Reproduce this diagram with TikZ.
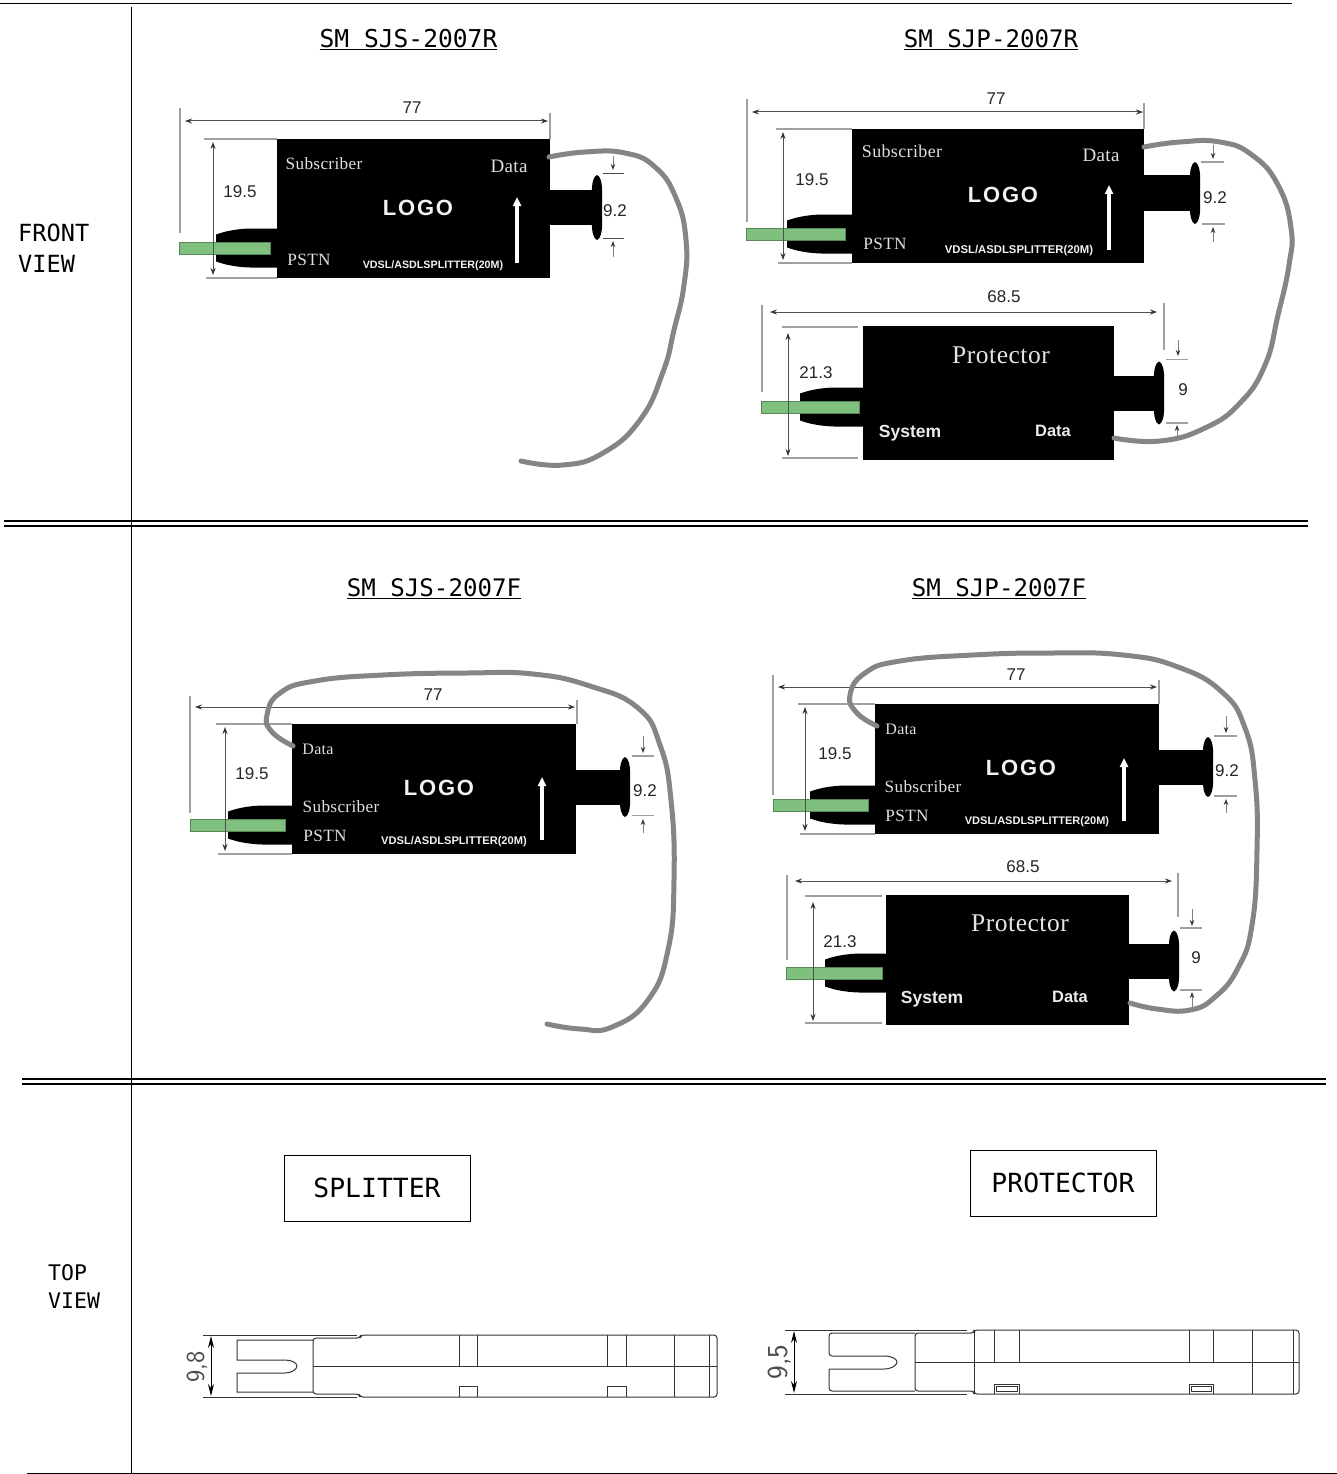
\documentclass[tikz,border=0pt]{standalone}
\usepackage{fontspec}
\setmainfont{Liberation Sans}
\newfontfamily\fSer[LetterSpace=2]{Liberation Serif}
\newfontfamily\fMono{DejaVu Sans Mono}
\newfontfamily\fLogo[LetterSpace=8]{Liberation Sans}
\usetikzlibrary{arrows.meta}
\definecolor{cabgray}{HTML}{858585}
\definecolor{plugreen}{HTML}{7FC07F}
\definecolor{dimgray}{HTML}{505050}
\definecolor{tickgray}{HTML}{A0A0A0}
\tikzset{
  x=1pt,y=-1pt,
  body/.style={fill=black,draw=none,inner sep=0pt,anchor=north west,outer sep=0pt},
  rule/.style={line width=1pt,black},
  dblrule/.style={line width=1.7pt,black},
  cable/.style={draw=cabgray,line width=5pt,line cap=round,line join=round},
  tickline/.style={draw=tickgray,line width=1.2pt},
  dimline/.style={draw=dimgray,line width=1pt,{Stealth[length=7pt,width=5pt,color=black!80]}-{Stealth[length=7pt,width=5pt,color=black!80]}},
  dimhalf/.style={draw=gray,line width=1pt,-{Stealth[length=6pt,width=4.5pt,color=black!80]}},
  whitearrow/.style={draw=white,line width=3.4pt,-{Stealth[length=9pt,width=8pt,inset=0pt]}},
  dimtxt/.style={font=\fontsize{17}{19}\selectfont,text=black!85,inner sep=0pt,yshift=-1pt},
  sertxt/.style={font=\fSer\fontsize{17.2}{20}\selectfont,text=white!88!black,inner sep=0pt},
  pretxt/.style={font=\fSer\fontsize{25.5}{26}\selectfont,text=white!90!black,inner sep=0pt},
  boldtxt/.style={font=\bfseries\fontsize{17.5}{19}\selectfont,text=white!92!black,inner sep=0pt,yshift=-1pt},
  logotxt/.style={font=\fLogo\bfseries\fontsize{22}{24}\selectfont,text=white!95!black,inner sep=0pt},
  modeltxt/.style={font=\bfseries\fontsize{10.7}{12}\selectfont,text=white!95!black,inner sep=0pt,yshift=-2pt},
  titletxt/.style={font=\fMono\fontsize{24.1}{28}\selectfont,inner sep=0pt,yshift=-1.5pt},
  sidetxt/.style={font=\fMono\fontsize{23.6}{31}\selectfont,inner sep=0pt,align=left,anchor=north west},
  tagbox/.style={draw=black,line width=.8pt,minimum height=66pt,minimum width=186pt,inner sep=0pt,font=\fMono\fontsize{26.4}{28}\selectfont},
  drawln/.style={draw=black!80,line width=1pt,line join=round},
  topdim/.style={font=\fontsize{26}{28}\selectfont\sffamily,text=black!70,rotate=90,inner sep=0pt}
}
% #1 body left, #2 centre y, #3 nose x, #4 green left, #5 green right
\newcommand{\plugshape}[5]{%
  \fill[black] (#1,#2-19.5) -- (#3+34,#2-19.5) .. controls (#3+20,#2-19) and (#3+10,#2-17) .. (#3,#2-13.5)
    -- (#3,#2+13.5) .. controls (#3+10,#2+17) and (#3+20,#2+19) .. (#3+34,#2+19.5) -- (#1,#2+19.5) -- cycle;
  \fill[plugreen] (#4,#2-6) rectangle (#5,#2+6);
  \draw[plugreen!70!black,line width=.5pt] (#4,#2-6) rectangle (#5,#2+6);
}
% #1 body right, #2 centre y, #3 oval x, #4 half height
\newcommand{\knobshape}[4]{%
  \fill[black] (#1,#2-17.5) rectangle (#3,#2+17.5);
  \fill[black] (#3,#2-#4) .. controls (#3+3.5,#2-#4+1) and (#3+5.2,#2-#4+8) .. (#3+5.2,#2-#4+18)
    -- (#3+5.2,#2+#4-18) .. controls (#3+5.2,#2+#4-8) and (#3+3.5,#2+#4-1) .. (#3,#2+#4)
    .. controls (#3-3.5,#2+#4-1) and (#3-5.2,#2+#4-8) .. (#3-5.2,#2+#4-18)
    -- (#3-5.2,#2-#4+18) .. controls (#3-5.2,#2-#4+8) and (#3-3.5,#2-#4+1) .. (#3,#2-#4) -- cycle;
}
\begin{document}
\begin{tikzpicture}
\useasboundingbox (0,0) rectangle (1337,1474);
\fill[white] (0,0) rectangle (1337,1474);
% frame
\draw[rule] (0,4) -- (1292,4);
\draw[rule] (131.5,7) -- (131.5,1474);
\draw[dblrule] (4,521) -- (1308,521);
\draw[dblrule] (4,526) -- (1308,526);
\draw[dblrule] (22,1079) -- (1326,1079);
\draw[dblrule] (22,1084) -- (1326,1084);
\draw[rule] (27,1473) -- (1337,1473);
% side labels
\node[sidetxt] (lfront) at (18,224) {FRONT\\VIEW};
\node[sidetxt,font=\fMono\fontsize{21.5}{28}\selectfont] (ltop) at (48,1264) {TOP\\VIEW};
% titles
\node[titletxt,font=\fMono\fontsize{24.6}{28}\selectfont] (t1) at (408.5,38) {\underline{SM SJS-2007R}};
\node[titletxt] (t2) at (991,38) {\underline{SM SJP-2007R}};
\node[titletxt] (t3) at (434,587) {\underline{SM SJS-2007F}};
\node[titletxt] (t4) at (999,587) {\underline{SM SJP-2007F}};

%%%% A: SJS-2007R
\plugshape{277}{248}{216}{179}{270}
\knobshape{550}{207.5}{597}{32.5}
\node[body,minimum width=273pt,minimum height=139pt] (bodyA) at (277,139) {};
\draw[tickline] (180,108) -- (180,233);
\draw[tickline] (550,113) -- (550,139);
\draw[tickline] (204,139) -- (277,139);
\draw[tickline] (206,278) -- (277,278);
\draw[tickline,black!70,line width=.9pt] (603,173.5) -- (624,173.5);
\draw[tickline,black!70,line width=.9pt] (603,238) -- (624,238);
\draw[dimline] (185,121) -- (548,121);
\draw[dimline] (213,142) -- (213,275);
\draw[dimhalf] (613,156) -- (613,170);
\draw[dimhalf] (613,257) -- (613,241);
\draw[whitearrow] (517,263) -- (517,197);
\node[dimtxt] (a77) at (412,107) {77};
\node[dimtxt] (a195) at (240,191) {19.5};
\node[dimtxt] (a92) at (615,210) {9.2};
\node[sertxt] (asub) at (324,164) {Subscriber};
\node[sertxt,font=\fSer\fontsize{19}{22}\selectfont] (adat) at (509,166) {Data};
\node[sertxt] (apst) at (309,260) {PSTN};
\node[logotxt] (alog) at (418,208) {LOGO};
\node[modeltxt] (avds) at (433,264) {VDSL/ASDLSPLITTER(20M)};
\draw[cable] plot[smooth,tension=.8] coordinates {(549,157) (585,152) (625,153) (655,167) (676,198) (686,240) (684,285) (674,330) (663,372) (640,420) (603,453) (563,465) (521,461)};

%%%% B: SJP-2007R
\plugshape{852}{234}{787}{746}{845}
\knobshape{1144}{193}{1195}{31}
\node[body,minimum width=292pt,minimum height=134pt] (bodyB) at (852,129) {};
\draw[tickline] (747,99) -- (747,222);
\draw[tickline] (1144,103) -- (1144,129);
\draw[tickline] (776,129) -- (852,129);
\draw[tickline] (778,263) -- (852,263);
\draw[tickline] (1201,162) -- (1224,162);
\draw[tickline] (1202,224) -- (1225,224);
\draw[dimline] (752,112) -- (1143,112);
\draw[dimline] (783,132) -- (783,260);
\draw[dimhalf] (1213,145) -- (1213,159);
\draw[dimhalf] (1213,242) -- (1213,227);
\draw[whitearrow] (1109,250) -- (1109,185);
\node[dimtxt] (b77) at (996,98) {77};
\node[dimtxt] (b195) at (812,179) {19.5};
\node[dimtxt] (b92) at (1215,197) {9.2};
\node[sertxt,font=\fSer\fontsize{18}{20}\selectfont] (bsub) at (902,151) {Subscriber};
\node[sertxt,font=\fSer\fontsize{19}{22}\selectfont] (bdat) at (1101,155) {Data};
\node[sertxt] (bpst) at (885,244) {PSTN};
\node[logotxt] (blog) at (1003,195) {LOGO};
\node[modeltxt,font=\bfseries\fontsize{11.3}{12}\selectfont] (bvds) at (1019,249) {VDSL/ASDLSPLITTER(20M)};

%%%% E: protector R
\plugshape{863}{407}{800}{761}{859}
\knobshape{1114}{393}{1159}{31.5}
\node[body,minimum width=251pt,minimum height=134pt] (bodyE) at (863,326) {};
\draw[tickline] (762,305) -- (762,392);
\draw[tickline] (1164,303) -- (1164,350);
\draw[tickline] (782,327) -- (858,327);
\draw[tickline] (782,458) -- (858,458);
\draw[tickline] (1166,359.5) -- (1188,359.5);
\draw[tickline] (1166,423) -- (1188,423);
\draw[dimline] (770,312) -- (1157,312);
\draw[dimline] (788,333) -- (788,456);
\draw[dimhalf] (1178,340) -- (1178,356);
\draw[dimhalf] (1177,436) -- (1177,425);
\node[dimtxt] (e685) at (1004,296) {68.5};
\node[dimtxt] (e213) at (816,372) {21.3};
\node[dimtxt] (e9) at (1183,389) {9};
\node[pretxt] (epro) at (1001,355) {Protector};
\node[boldtxt] (esys) at (910,432) {System};
\node[boldtxt,font=\bfseries\fontsize{16.5}{18}\selectfont] (edat) at (1053,430) {Data};
\draw[cable] plot[smooth,tension=.8] coordinates {(1144,147) (1180,142) (1220,142) (1252,155) (1278,185) (1291,228) (1289,265) (1278,315) (1265,365) (1240,403) (1205,428) (1160,441) (1114,438)};

%%%% D: SJS-2007F
\plugshape{292}{825}{228}{190}{285}
\knobshape{576}{787}{625}{30}
\node[body,minimum width=284pt,minimum height=130pt] (bodyD) at (292,724) {};
\draw[tickline] (190,696) -- (190,813);
\draw[tickline] (577,700) -- (577,724);
\draw[tickline] (216,724) -- (292,724);
\draw[tickline] (218,854) -- (292,854);
\draw[tickline] (632,756) -- (654,756);
\draw[tickline] (632,815.5) -- (654,815.5);
\draw[dimline] (195,707) -- (575,707);
\draw[dimline] (225,727) -- (225,851);
\draw[dimhalf] (643,736) -- (643,753);
\draw[dimhalf] (643,833) -- (643,819);
\draw[whitearrow] (542,840) -- (542,777);
\node[dimtxt] (d77) at (433,694) {77};
\node[dimtxt] (d195) at (252,773) {19.5};
\node[dimtxt] (d92) at (645,790) {9.2};
\node[sertxt,font=\fSer\fontsize{16}{18}\selectfont] (ddat) at (318,749) {Data};
\node[sertxt] (dsub) at (341,807) {Subscriber};
\node[sertxt] (dpst) at (325,836) {PSTN};
\node[logotxt] (dlog) at (439,787.5) {LOGO};
\node[modeltxt,font=\bfseries\fontsize{11.1}{12}\selectfont] (dvds) at (454,840) {VDSL/ASDLSPLITTER(20M)};
\draw[cable] plot[smooth,tension=.8] coordinates {(293,746) (272,732) (267,715) (280,693) (315,681) (383,675) (467,673) (533,674) (590,686) (638,708) (660,745) (671,800) (674,880) (668,950) (648,1000) (612,1027) (580,1029) (547,1024)};

%%%% C: SJP-2007F
\plugshape{875}{805}{810}{773}{868}
\knobshape{1159}{767}{1208}{30}
\node[body,minimum width=284pt,minimum height=130pt] (bodyC) at (875,704) {};
\draw[tickline] (773,675) -- (773,795);
\draw[tickline] (1159,680) -- (1159,704);
\draw[tickline] (798,704) -- (875,704);
\draw[tickline] (800,834) -- (875,834);
\draw[tickline] (1214,736) -- (1237,736);
\draw[tickline] (1214,796) -- (1237,796);
\draw[dimline] (778,687) -- (1157,687);
\draw[dimline] (805,707) -- (805,831);
\draw[dimhalf] (1226,716) -- (1226,733);
\draw[dimhalf] (1226,813) -- (1226,799);
\draw[whitearrow] (1124,821) -- (1124,758);
\node[dimtxt] (c77) at (1016,674) {77};
\node[dimtxt] (c195) at (835,753) {19.5};
\node[dimtxt] (c92) at (1227,770) {9.2};
\node[sertxt,font=\fSer\fontsize{16}{18}\selectfont] (cdat) at (901,729) {Data};
\node[sertxt] (csub) at (923,787) {Subscriber};
\node[sertxt] (cpst) at (907,816) {PSTN};
\node[logotxt] (clog) at (1021,767.5) {LOGO};
\node[modeltxt,font=\bfseries\fontsize{11}{12}\selectfont] (cvds) at (1037,820) {VDSL/ASDLSPLITTER(20M)};

%%%% F: protector F
\plugshape{886}{973}{825}{786}{882}
\knobshape{1129}{961}{1174}{30.5}
\node[body,minimum width=243pt,minimum height=130pt] (bodyF) at (886,895) {};
\draw[tickline] (787,875) -- (787,960);
\draw[tickline] (1178,873) -- (1178,917);
\draw[tickline] (805,896) -- (882,896);
\draw[tickline] (805,1023) -- (882,1023);
\draw[tickline] (1180,928) -- (1202,928);
\draw[tickline] (1180,990) -- (1202,990);
\draw[dimline] (795,881) -- (1172,881);
\draw[dimline] (813,902) -- (813,1021);
\draw[dimhalf] (1192,909) -- (1192,926);
\draw[dimhalf] (1192,1007) -- (1192,992);
\node[dimtxt] (f685) at (1023,866) {68.5};
\node[dimtxt] (f213) at (840,941) {21.3};
\node[dimtxt] (f9) at (1196,957) {9};
\node[pretxt] (fpro) at (1020,923) {Protector};
\node[boldtxt] (fsys) at (932,998) {System};
\node[boldtxt,font=\bfseries\fontsize{16.5}{18}\selectfont] (fdat) at (1070,996) {Data};
\draw[cable] plot[smooth,tension=.8] coordinates {(877,726) (857,713) (850,695) (865,673) (900,661) (973,655) (1050,653) (1123,655) (1178,667) (1222,692) (1245,728) (1255,780) (1257,850) (1252,925) (1238,968) (1215,997) (1190,1010) (1157,1009) (1130,1003)};

%%%% tag boxes
\node[tagbox] (tagS) at (377,1188) {SPLITTER};
\node[tagbox] (tagP) at (1063,1183) {PROTECTOR};

%%%% top view splitter
\draw[drawln] (203,1335) -- (357,1335);
\draw[drawln] (203,1397) -- (357,1397);
\draw[drawln,rounded corners=3pt] (313,1338) -- (360,1338) -- (361,1335) -- (717,1335) -- (717,1397) -- (360,1397) -- (359,1394) -- (313,1394) -- cycle;
\draw[drawln] (313,1366) -- (717,1366);
\draw[drawln] (459,1335) -- (459,1366) (477,1335) -- (477,1366) (607,1335) -- (607,1366) (626,1335) -- (626,1366);
\draw[drawln] (674,1335) -- (674,1397) (709,1335) -- (709,1397);
\draw[drawln] (459,1397) -- (459,1386) -- (477,1386) -- (477,1397);
\draw[drawln] (607,1397) -- (607,1386) -- (626,1386) -- (626,1397);
\draw[drawln] (313,1340) -- (237,1340) -- (237,1360) -- (285,1360) .. controls (292,1360) and (297,1363) .. (297,1366) .. controls (297,1369) and (292,1373) .. (285,1373) -- (237,1373) -- (237,1392) -- (313,1392);
\draw[line width=1pt,black,{Stealth[length=12pt,width=6pt]}-{Stealth[length=12pt,width=6pt]}] (211,1336) -- (211,1396);
\node[topdim] (s98) at (197,1367) {9,8};

%%%% top view protector
\draw[drawln] (785,1330) -- (967,1330);
\draw[drawln] (785,1394) -- (967,1394);
\draw[drawln,rounded corners=3pt] (915,1333) -- (974,1333) -- (974,1330) -- (1299,1330) -- (1299,1394) -- (974,1394) -- (974,1391) -- (915,1391) -- cycle;
\draw[drawln] (915,1362) -- (1299,1362);
\draw[drawln] (974,1330) -- (974,1394);
\draw[drawln] (994,1330) -- (994,1362) (1019,1330) -- (1019,1362) (1189,1330) -- (1189,1362) (1213,1330) -- (1213,1362);
\draw[drawln] (1252,1330) -- (1252,1394) (1293,1330) -- (1293,1394);
\draw[drawln] (994,1394) -- (994,1384) -- (1019,1384) -- (1019,1394);
\draw[drawln] (1189,1394) -- (1189,1384) -- (1213,1384) -- (1213,1394);
\draw[drawln,line width=.8pt] (996,1386) rectangle (1017,1391);
\draw[drawln,line width=.8pt] (1191,1386) rectangle (1211,1391);
\draw[drawln,rounded corners=3pt] (915,1333) -- (829,1333) -- (829,1356) -- (884,1356);
\draw[drawln] (884,1356) .. controls (892,1356) and (897,1359) .. (897,1362) .. controls (897,1365) and (892,1369) .. (884,1369) -- (829,1369);
\draw[drawln,rounded corners=3pt] (829,1369) -- (829,1391) -- (915,1391);
\draw[line width=1pt,black,{Stealth[length=12pt,width=6pt]}-{Stealth[length=12pt,width=6pt]}] (794,1331) -- (794,1393);
\node[topdim,font=\fontsize{29}{31}\selectfont\sffamily] (p95) at (780,1362) {9,5};
\end{tikzpicture}
\end{document}
